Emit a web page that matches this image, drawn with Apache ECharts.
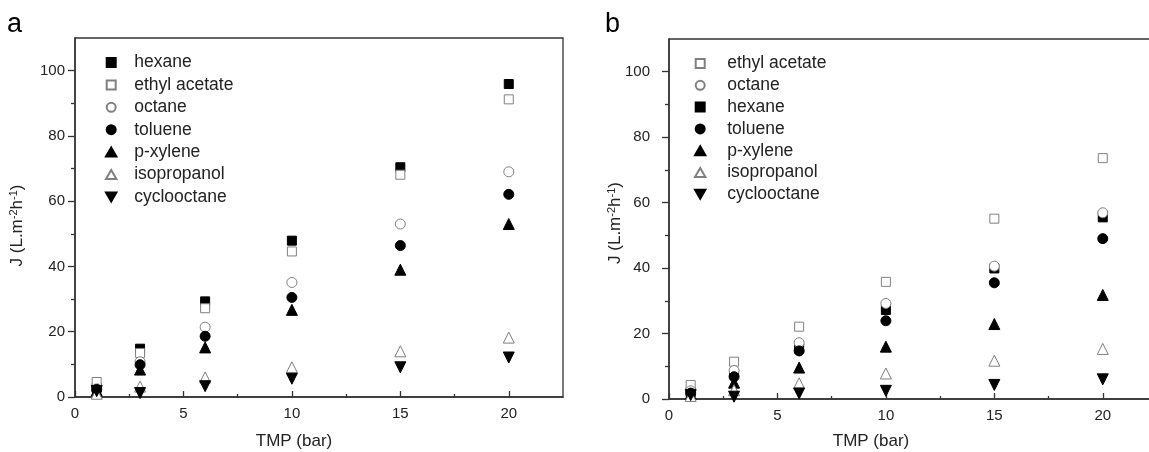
<!DOCTYPE html>
<html>
<head>
<meta charset="utf-8">
<script src="https://cdn.jsdelivr.net/npm/echarts@6/dist/echarts.min.js"></script>
<style>
html, body { margin: 0; padding: 0; background: #fff; }
#chart { width: 1149px; height: 452px; }
</style>
</head>
<body>
<div id="chart"></div>
<script>
var tmp = [1, 3, 6, 10, 15, 20];
var yTicks = [0, 20, 40, 60, 80, 100];
var yMinor = [10, 30, 50, 70, 90];
var xTicks = [0, 5, 10, 15, 20];
var xMinor = [2.5, 7.5, 12.5, 17.5];

// panel a
var hexaneA = [2.8, 14.8, 29.3, 47.9, 70.4, 95.9];
var ethylA = [4.6, 13.5, 27.2, 44.6, 68.1, 91.2];
var octaneA = [2.5, 10.8, 21.4, 35.1, 53.0, 69.0];
var tolueneA = [2.3, 9.9, 18.6, 30.5, 46.4, 62.1];
var xyleneA = [2.0, 8.4, 15.2, 26.7, 39.0, 53.0];
var isopropA = [1.0, 3.2, 6.0, 9.1, 14.0, 18.2];
var cycloA = [1.8, 1.2, 3.3, 5.6, 9.1, 12.1];

// panel b
var ethylB = [4.3, 11.4, 22.1, 35.8, 55.1, 73.6];
var octaneB = [2.5, 8.7, 17.2, 29.2, 40.6, 56.9];
var hexaneB = [2.1, 7.8, 15.5, 27.2, 39.9, 55.5];
var tolueneB = [1.8, 6.8, 14.7, 23.9, 35.5, 49.0];
var xyleneB = [1.5, 5.0, 9.6, 16.0, 22.9, 31.8];
var isopropB = [0.9, 2.7, 4.8, 7.8, 11.7, 15.3];
var cycloB = [1.2, 0.7, 1.7, 2.5, 4.3, 6.0];

var legendA = ['hexane', 'ethyl acetate', 'octane', 'toluene', 'p-xylene', 'isopropanol', 'cyclooctane'];
var legendB = ['ethyl acetate', 'octane', 'hexane', 'toluene', 'p-xylene', 'isopropanol', 'cyclooctane'];

var font = "'Liberation Sans', Arial, sans-serif";
var ink = '#222';
var hollow = '#808080';

// legend icons as paths so they keep their aspect
var icons = {
    rect: 'path://M0,0H10V10H0Z',
    circle: 'path://M5,0A5,5,0,1,1,5,10A5,5,0,1,1,5,0Z',
    up: 'path://M5,0L10,8.66L0,8.66Z',
    down: 'path://M0,0L10,0L5,8.66Z'
};

var marks = {
    'hexane': {symbol: 'rect', icon: 'rect', size: 9, fill: '#000', border: '#000'},
    'ethyl acetate': {symbol: 'rect', icon: 'rect', size: 9, fill: '#fff', border: hollow},
    'octane': {symbol: 'circle', icon: 'circle', size: 10, fill: '#fff', border: hollow},
    'toluene': {symbol: 'circle', icon: 'circle', size: 10, fill: '#000', border: '#000'},
    'p-xylene': {symbol: 'triangle', icon: 'up', size: 11, fill: '#000', border: '#000'},
    'isopropanol': {symbol: 'triangle', icon: 'up', size: 11, fill: '#fff', border: hollow},
    'cyclooctane': {symbol: 'triangle', icon: 'down', size: 11, fill: '#000', border: '#000', rotate: 180}
};

function pts(arr) {
    return tmp.map(function (x, i) { return [x, arr[i]]; });
}

function scatter(name, arr, axisIdx) {
    var m = marks[name];
    return {
        name: name,
        type: 'scatter',
        xAxisIndex: axisIdx,
        yAxisIndex: axisIdx,
        symbol: m.symbol,
        symbolSize: m.size,
        symbolRotate: m.rotate || 0,
        itemStyle: {color: m.fill, borderColor: m.border, borderWidth: 1, opacity: 1},
        emphasis: {disabled: true},
        data: pts(arr)
    };
}

var yName = '{n|J (L.m}{s|-2}{n|h}{s|-1}{n|)}';
function yNameStyle(shift) {
    return {
        color: ink,
        fontFamily: font,
        padding: [0, shift, 0, 0],
        rich: {
            n: {fontSize: 17, fontFamily: font, color: ink, lineHeight: 19},
            s: {fontSize: 11, fontFamily: font, color: ink, verticalAlign: 'top', lineHeight: 19}
        }
    };
}

function xAxes(grid) {
    return [
        {
            gridIndex: grid, type: 'value', min: 0, max: 22.5, interval: 5, position: 'bottom',
            splitLine: {show: false},
            axisLine: {onZero: false, lineStyle: {color: '#333', width: 1.5}},
            axisTick: {inside: true, length: 6, customValues: xTicks, lineStyle: {color: '#333', width: 1.3}},
            axisLabel: {customValues: xTicks, margin: 9, fontSize: 15, fontFamily: font, color: ink}
        },
        {
            gridIndex: grid, type: 'value', min: 0, max: 22.5, position: 'bottom',
            splitLine: {show: false},
            axisLine: {show: false, onZero: false},
            axisTick: {inside: true, length: 3, customValues: xMinor, lineStyle: {color: '#333', width: 1.3}},
            axisLabel: {show: false}
        }
    ];
}

function yAxes(grid, gap, margin, shift) {
    return [
        {
            gridIndex: grid, type: 'value', min: 0, max: 110, interval: 20, position: 'left',
            name: yName, nameLocation: 'middle', nameRotate: 90, nameGap: gap,
            nameMoveOverlap: false,
            nameTextStyle: yNameStyle(shift),
            splitLine: {show: false},
            axisLine: {show: true, onZero: false, lineStyle: {color: '#333', width: 1.5}},
            axisTick: {show: true, inside: false, length: 7, customValues: yTicks, lineStyle: {color: '#333', width: 1.3}},
            axisLabel: {customValues: yTicks, margin: margin, fontSize: 15, fontFamily: font, color: ink}
        },
        {
            gridIndex: grid, type: 'value', min: 0, max: 110, position: 'left',
            splitLine: {show: false},
            axisLine: {show: false, onZero: false},
            axisTick: {show: true, inside: false, length: 4, customValues: yMinor, lineStyle: {color: '#333', width: 1.3}},
            axisLabel: {show: false}
        }
    ];
}

function legend(names, left, top, itemWidth, gap) {
    return {
        data: names.map(function (n) {
            return {name: n, icon: icons[marks[n].icon]};
        }),
        orient: 'vertical',
        left: left,
        top: top,
        padding: 0,
        itemWidth: itemWidth,
        itemHeight: 9,
        itemGap: gap,
        selectedMode: false,
        textStyle: {fontSize: 17.5, fontFamily: font, color: ink, lineHeight: 17}
    };
}

var option = {
    backgroundColor: '#fff',
    animation: false,
    grid: [
        {left: 75, top: 38, right: 586, bottom: 55, show: true, borderColor: '#333', borderWidth: 1.3, outerBoundsMode: 'none'},
        {left: 669, top: 39, right: -8, bottom: 53, show: true, borderColor: '#333', borderWidth: 1.3, outerBoundsMode: 'none'}
    ],
    legend: [
        legend(legendA, 105, 53.5, 36, 4.4),
        legend(legendB, 694, 54.5, 44, 3.8)
    ],
    xAxis: xAxes(0).concat(xAxes(1)),
    yAxis: yAxes(0, 48, 10, 16).concat(yAxes(1, 44, 19, 8)),
    graphic: [
        {type: 'text', x: 7, y: 11, style: {text: 'a', font: '27px ' + font, fill: '#000'}},
        {type: 'text', x: 605, y: 11, style: {text: 'b', font: '27px ' + font, fill: '#000'}},
        {type: 'text', x: 294, y: 441, style: {text: 'TMP (bar)', font: '17px ' + font, fill: ink, textAlign: 'center', textVerticalAlign: 'middle', align: 'center', verticalAlign: 'middle'}},
        {type: 'text', x: 871, y: 441, style: {text: 'TMP (bar)', font: '17px ' + font, fill: ink, textAlign: 'center', textVerticalAlign: 'middle', align: 'center', verticalAlign: 'middle'}}
    ],
    series: [
        scatter('hexane', hexaneA, 0),
        scatter('ethyl acetate', ethylA, 0),
        scatter('octane', octaneA, 0),
        scatter('toluene', tolueneA, 0),
        scatter('p-xylene', xyleneA, 0),
        scatter('isopropanol', isopropA, 0),
        scatter('cyclooctane', cycloA, 0),
        scatter('hexane', hexaneB, 2),
        scatter('ethyl acetate', ethylB, 2),
        scatter('octane', octaneB, 2),
        scatter('toluene', tolueneB, 2),
        scatter('p-xylene', xyleneB, 2),
        scatter('isopropanol', isopropB, 2),
        scatter('cyclooctane', cycloB, 2)
    ]
};

var chart = echarts.init(document.getElementById('chart'));
chart.setOption(option);

window.onresize = function () {
    chart.resize();
};
</script>
</body>
</html>
